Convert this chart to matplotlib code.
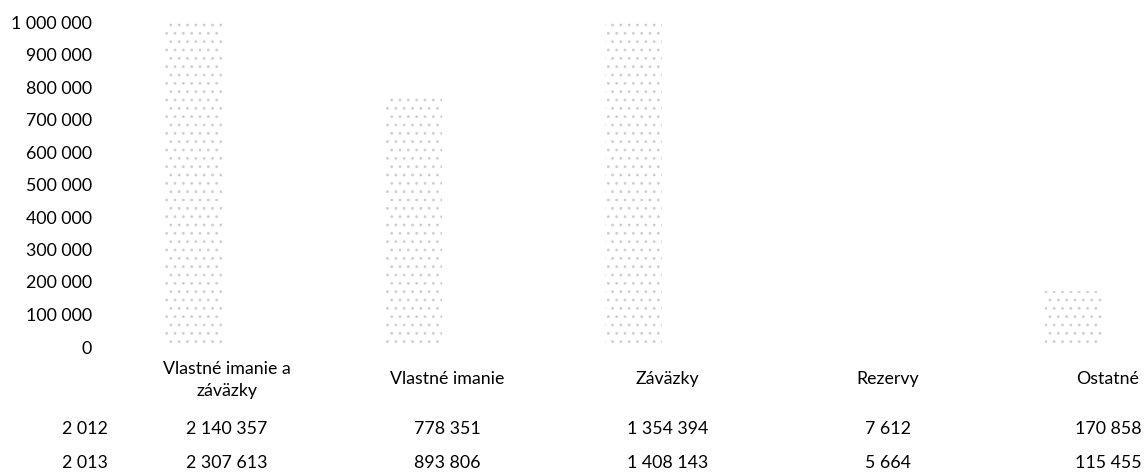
import matplotlib
matplotlib.use("Agg")
from matplotlib import pyplot as plt
from matplotlib import transforms
import numpy as np

categories = ["Vlastné imanie a\nzáväzky", "Vlastné imanie", "Záväzky", "Rezervy", "Ostatné"]
years = ["2 012", "2 013"]
vals_2012 = [2140357, 778351, 1354394, 7612, 170858]
vals_2013 = [2307613, 893806, 1408143, 5664, 115455]
yticks = [0, 100000, 200000, 300000, 400000, 500000, 600000, 700000, 800000, 900000, 1000000]


def fmt(v):
    return "{:,}".format(v).replace(",", " ")


plt.rcParams['font.family'] = ['Lato', 'DejaVu Sans']
plt.rcParams['hatch.linewidth'] = 0.8

fig = plt.figure(figsize=(11.46, 4.73), dpi=100)
# the original chart is cropped on the right, so the axes run past the figure edge
ax = fig.add_axes([117 / 1146, 1 - 347 / 473, 1101 / 1146, 325 / 473])

x = np.arange(len(categories))
w = 0.26
ax.bar(x - 0.155, vals_2012, w, color="white", edgecolor="#cfcfcf", hatch="..", linewidth=0)
ax.bar(x + 0.155, vals_2013, w, color="white", linewidth=0)

ax.set_xlim(-0.5, len(categories) - 0.5)
ax.set_ylim(0, 1000000)
ax.set_yticks(yticks)
ax.set_yticklabels([fmt(v) for v in yticks])
ax.set_xticks([])
ax.tick_params(axis="y", length=0, pad=18, labelsize=12.8, colors="black")
for s in ax.spines.values():
    s.set_visible(False)

# data table under the chart
trans = transforms.blended_transform_factory(ax.transData, fig.transFigure)
fs = 12.8
for i, c in enumerate(categories):
    if "\n" in c:
        ax.text(i, 1 - 380 / 473, c, transform=trans, ha="center", va="center",
                fontsize=fs, linespacing=1.45)
    else:
        ax.text(i, 1 - 379 / 473, c, transform=trans, ha="center", va="center", fontsize=fs)
    ax.text(i, 1 - 429 / 473, fmt(vals_2012[i]), transform=trans, ha="center", va="center", fontsize=fs)
    ax.text(i, 1 - 463 / 473, fmt(vals_2013[i]), transform=trans, ha="center", va="center", fontsize=fs)

fig.text(108 / 1146, 1 - 429 / 473, years[0], ha="right", va="center", fontsize=fs)
fig.text(108 / 1146, 1 - 463 / 473, years[1], ha="right", va="center", fontsize=fs)

fig.savefig("out.png", dpi=100)
